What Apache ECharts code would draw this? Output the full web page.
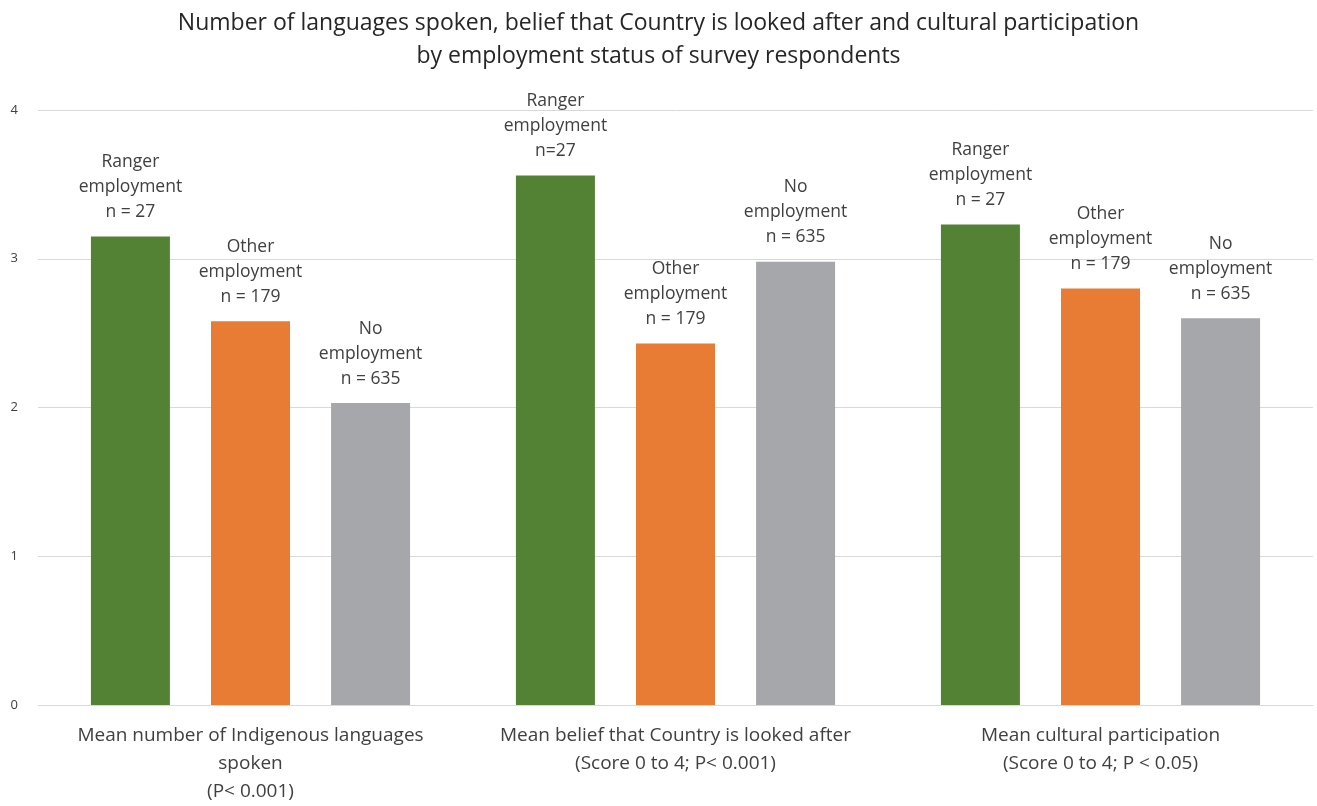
<!DOCTYPE html>
<html>
<head>
<meta charset="utf-8">
<script src="https://cdn.jsdelivr.net/npm/echarts@6/dist/echarts.min.js"></script>
<style>html,body{margin:0;padding:0;background:#fff}#c{width:1317px;height:806px}</style>
</head>
<body>
<div id="c"></div>
<script>
const titleText = "Number of languages spoken, belief that Country is looked after and cultural participation\nby employment status of survey respondents";
const categories = [
  "Mean number of Indigenous languages\nspoken\n(P< 0.001)",
  "Mean belief that Country is looked after\n(Score 0 to 4; P< 0.001)",
  "Mean cultural participation\n(Score 0 to 4; P < 0.05)"
];
const seriesNames = ["Ranger employment", "Other employment", "No employment"];
const rangerValues = [3.15, 3.56, 3.23];
const otherValues = [2.58, 2.43, 2.80];
const noneValues = [2.03, 2.98, 2.60];
const rangerLabels = ["Ranger\nemployment\nn = 27", "Ranger\nemployment\nn=27", "Ranger\nemployment\nn = 27"];
const otherLabels = ["Other\nemployment\nn = 179", "Other\nemployment\nn = 179", "Other\nemployment\nn = 179"];
const noneLabels = ["No\nemployment\nn = 635", "No\nemployment\nn = 635", "No\nemployment\nn = 635"];
const yTicks = [0, 1, 2, 3, 4];

const colors = ["#548235", "#E97C35", "#A6A7AB"];
const FONT = "Open Sans";

function mkSeries(name, values, labels, color) {
  return {
    name: name,
    type: "bar",
    data: values,
    barWidth: 79,
    barGap: "52%",
    itemStyle: { color: color },
    label: {
      show: true,
      position: "top",
      distance: 12,
      formatter: p => labels[p.dataIndex],
      fontFamily: FONT,
      fontSize: 17.5,
      lineHeight: 25,
      color: "#404040",
      align: "center"
    }
  };
}

const chart = echarts.init(document.getElementById("c"), null, { renderer: "canvas" });
chart.setOption({
  animation: false,
  backgroundColor: "#fff",
  title: {
    text: titleText,
    left: "center",
    top: 2,
    textStyle: { fontFamily: FONT, fontSize: 23, fontWeight: "normal", lineHeight: 33, color: "#262626" }
  },
  grid: { left: 38, right: 4, top: 110, bottom: 96, containLabel: false },
  xAxis: {
    type: "category",
    data: categories,
    axisTick: { show: false },
    axisLine: { lineStyle: { color: "#D9D9D9", width: 1 } },
    axisLabel: { fontFamily: FONT, fontSize: 19, lineHeight: 28, color: "#404040", margin: 17, interval: 0 }
  },
  yAxis: {
    type: "value",
    min: yTicks[0],
    max: yTicks[yTicks.length - 1],
    interval: 1,
    axisLine: { show: false },
    axisTick: { show: false },
    splitLine: { lineStyle: { color: "#D9D9D9", width: 1 } },
    axisLabel: { fontFamily: FONT, fontSize: 13, color: "#404040", margin: 20 }
  },
  series: [
    mkSeries(seriesNames[0], rangerValues, rangerLabels, colors[0]),
    mkSeries(seriesNames[1], otherValues, otherLabels, colors[1]),
    mkSeries(seriesNames[2], noneValues, noneLabels, colors[2])
  ]
});
</script>
</body>
</html>
